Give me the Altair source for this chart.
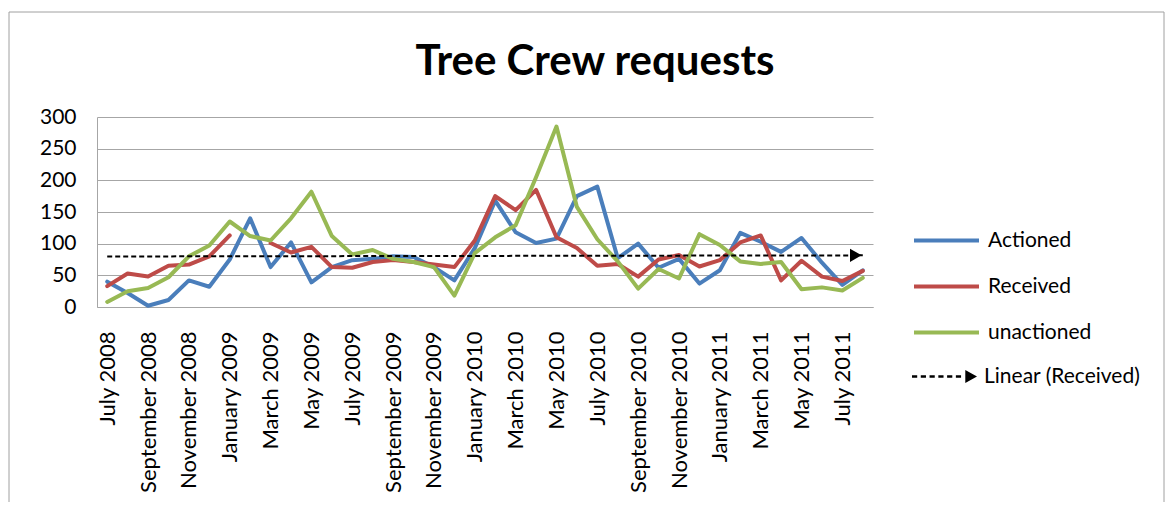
import json
import altair as alt
import pandas as pd

months = ["July 2008", "August 2008", "September 2008", "October 2008", "November 2008",
          "December 2008", "January 2009", "February 2009", "March 2009", "April 2009",
          "May 2009", "June 2009", "July 2009", "August 2009", "September 2009",
          "October 2009", "November 2009", "December 2009", "January 2010", "February 2010",
          "March 2010", "April 2010", "May 2010", "June 2010", "July 2010", "August 2010",
          "September 2010", "October 2010", "November 2010", "December 2010", "January 2011",
          "February 2011", "March 2011", "April 2011", "May 2011", "June 2011", "July 2011",
          "August 2011"]

actioned = [40, 22, 2, 11, 42, 32, 75, 140, 63, 102, 39, 63, 74, 76, 80, 79, 63, 42, 93,
            168, 118, 101, 108, 175, 190, 77, 100, 62, 76, 37, 58, 117, 103, 87, 109, 70,
            35, 58]
received = [33, 53, 48, 65, 67, 80, 113, None, 101, 86, 95, 63, 62, 71, 74, 71, 67, 63, 105,
            175, 153, 185, 110, 93, 65, 68, 48, 75, 82, 64, 74, 102, 113, 42, 73, 48, 41, 57]
unactioned = [8, 25, 30, 47, 80, 97, 135, 112, 105, 140, 182, 112, 83, 90, 76, 71, 63, 18,
              85, 110, 129, 205, 285, 158, 107, 72, 29, 60, 45, 115, 98, 72, 68, 71, 28, 31,
              26, 46]

series_names = ["Actioned", "Received", "unactioned"]
series_colors = ["#4a7ebb", "#be4b48", "#98b954"]
trend_name = "Linear (Received)"
y_ticks = [0, 50, 100, 150, 200, 250, 300]
x_ticks = list(range(0, 37, 2))

rows = []
for name, vals in [("Actioned", actioned), ("Received", received), ("unactioned", unactioned)]:
    for i, (m, v) in enumerate(zip(months, vals)):
        rows.append({"i": i, "month": m, "series": name, "value": v})
df = pd.DataFrame(rows)

FONT = "Lato"
GRID = "#a6a6a6"

# legend symbol for the trend entry: dashes followed by an arrow head
parts = []
for k in range(6):
    x0 = -1 + k * 0.27
    x1 = x0 + 0.16
    parts.append(f"M{x0:.3f},-0.035L{x1:.3f},-0.035L{x1:.3f},0.035L{x0:.3f},0.035Z")
parts.append("M0.64,-0.2L1,0L0.64,0.2Z")
trend_path = "".join(parts)

x_enc = alt.X(
    "i:Q",
    scale=alt.Scale(domain=[-0.5, 37.5], nice=False, zero=False),
    axis=alt.Axis(values=x_ticks, labelExpr=f"{json.dumps(months)}[datum.value]",
                  labelAngle=270, labelAlign="right", labelBaseline="middle",
                  labelPadding=24, tickSize=0, grid=False, domainColor=GRID,
                  title=None, labelFontSize=22, labelFont=FONT, labelColor="black",
                  labelOverlap=False),
)
y_enc = alt.Y(
    "value:Q",
    scale=alt.Scale(domain=[0, 300], nice=False),
    axis=alt.Axis(values=y_ticks, grid=True, gridColor=GRID, domainColor=GRID,
                  tickSize=0, labelPadding=21, title=None, labelFontSize=21,
                  labelFont=FONT, labelColor="black"),
)
color_enc = alt.Color(
    "series:N",
    scale=alt.Scale(domain=series_names, range=series_colors),
    legend=alt.Legend(
        orient="none", legendX=815, legendY=89, title=None, padding=0,
        symbolType="stroke", symbolSize=4225, symbolStrokeWidth=4,
        labelFontSize=21, labelFont=FONT, labelColor="black", labelOffset=7,
        rowPadding=1,
    ),
)

# chart-area frame (decoration, like the spreadsheet chart border)
frame = alt.Chart(pd.DataFrame({"f": [0]})).mark_rect(
    filled=False, stroke="#a0a0a0", strokeWidth=1
).encode(x=alt.value(-88), x2=alt.value(1067), y=alt.value(-105), y2=alt.value(430))

lines = alt.Chart(df).mark_line(
    strokeWidth=4, strokeJoin="round", strokeCap="round",
    invalid="break-paths-show-domains",
).encode(x=x_enc, y=y_enc, color=color_enc)

trend_base = alt.Chart(df).transform_filter(
    "datum.series === 'Received' && isValid(datum.value)"
).transform_regression("i", "value")

trend = trend_base.transform_calculate(trend=f"'{trend_name}'").mark_line(
    strokeWidth=2, color="black"
).encode(
    x=x_enc, y=y_enc,
    strokeDash=alt.StrokeDash(
        "trend:N",
        scale=alt.Scale(domain=[trend_name], range=[[5, 3]]),
        legend=alt.Legend(
            orient="none", legendX=815, legendY=227, title=None, padding=0,
            symbolType=trend_path, symbolSize=4225, symbolStrokeWidth=0,
            symbolFillColor="black", symbolStrokeColor="black",
            labelFontSize=21, labelFont=FONT, labelColor="black", labelOffset=7,
        ),
    ),
)

arrow = trend_base.transform_joinaggregate(imax="max(i)").transform_filter(
    "datum.i === datum.imax"
).mark_point(shape="triangle-right", filled=True, size=180, opacity=1,
             color="black", xOffset=-7).encode(x=x_enc, y=y_enc)

chart = alt.layer(frame, lines, trend, arrow).properties(
    width=776, height=190,
    title=alt.Title("Tree Crew requests", font=FONT, fontSize=42, fontWeight="bold",
                    color="black", anchor="middle", frame="group", dx=110, offset=-72),
    autosize=alt.AutoSizeParams(type="none"),
    padding={"left": 89, "top": 109, "right": 292, "bottom": 195},
).configure_view(stroke=None)

chart.save("out.html", embed_options={"renderer": "svg", "actions": False})
